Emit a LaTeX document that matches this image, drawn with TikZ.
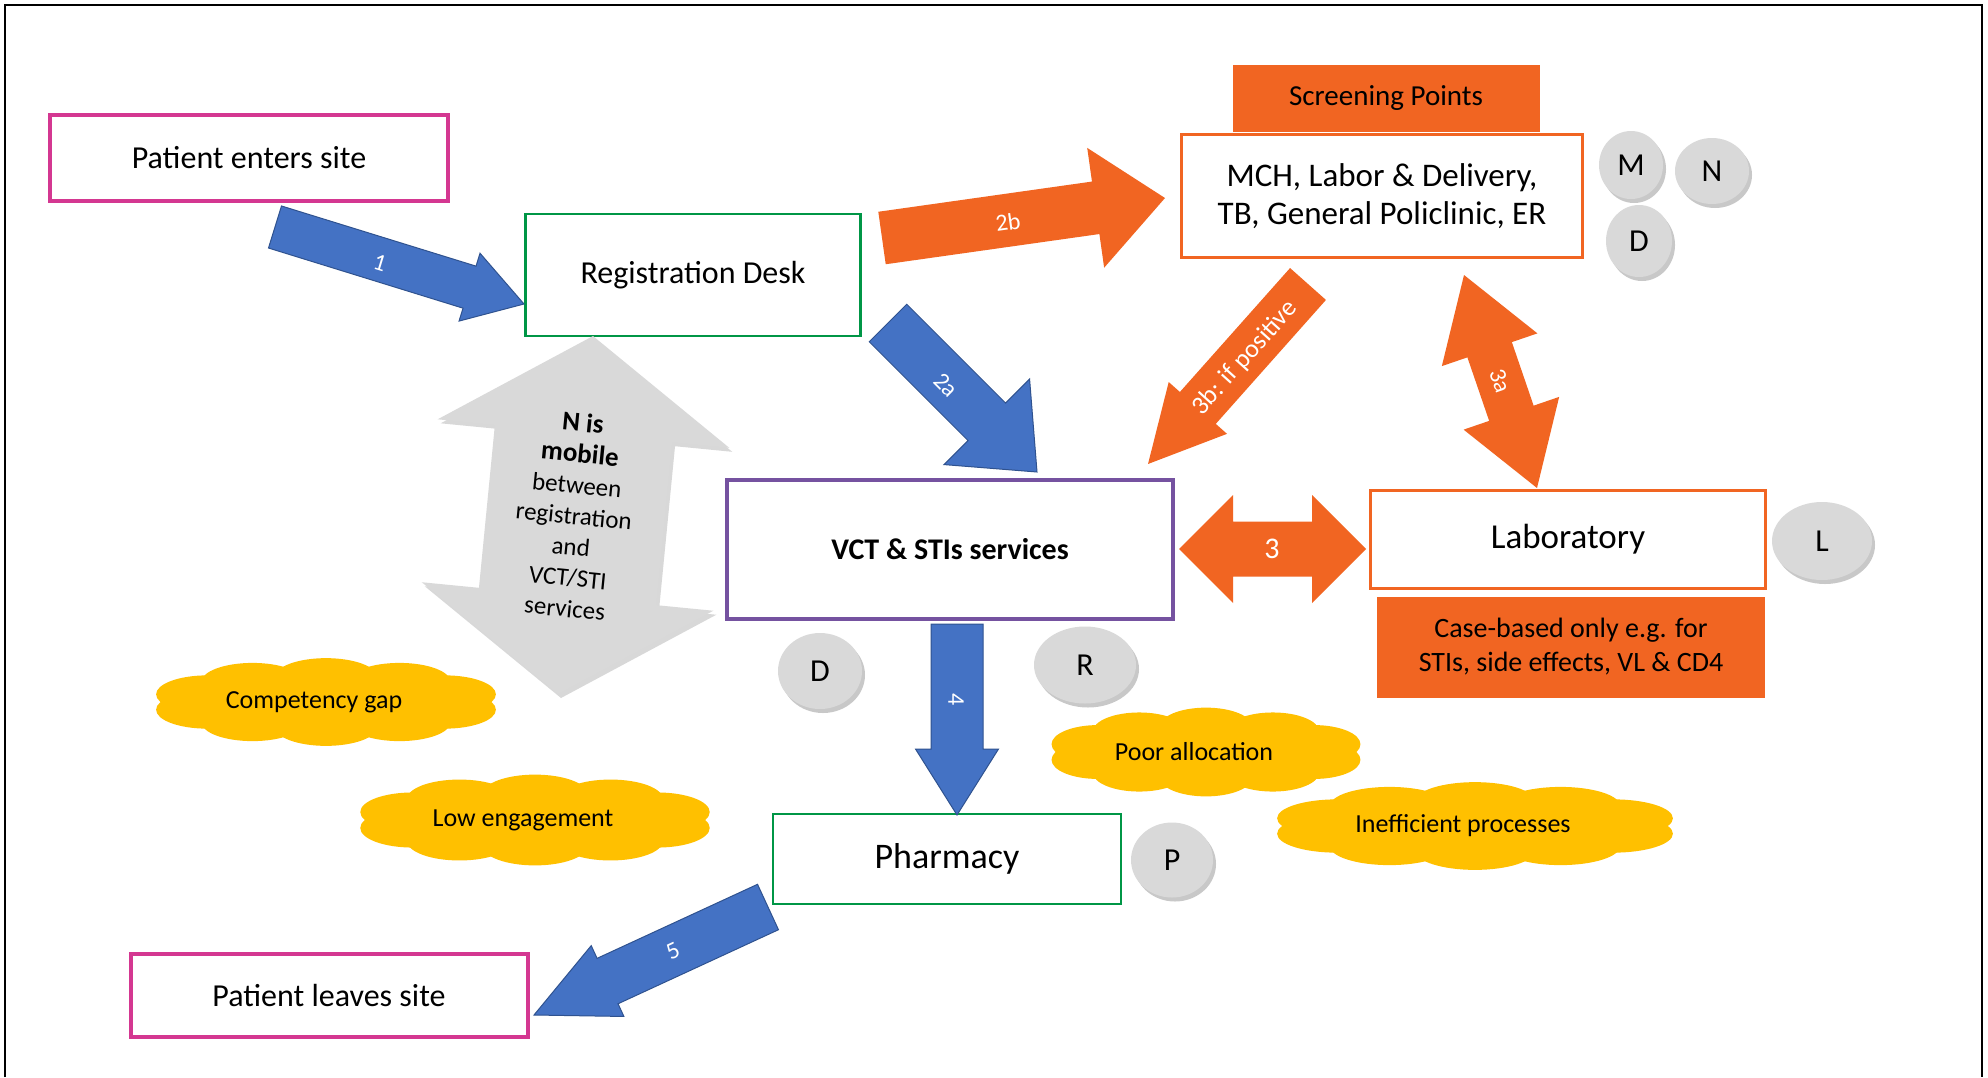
\documentclass[tikz,border=0pt]{standalone}
\usepackage{fontspec}
\setmainfont{Carlito}
\usetikzlibrary{calc,shapes.geometric,shadows}

\definecolor{cmag}{RGB}{212,55,145}
\definecolor{cgreen}{RGB}{0,150,70}
\definecolor{cpurple}{RGB}{117,82,160}
\definecolor{corange}{RGB}{241,101,34}
\definecolor{cblue}{RGB}{68,114,196}
\definecolor{cblueedge}{RGB}{47,82,143}
\definecolor{cyellow}{RGB}{255,192,0}
\definecolor{cgray}{RGB}{217,217,217}

\newcommand{\setfs}[2]{\fontsize{#1}{#2}\selectfont}

% single block arrow: style, tail, tip, shaft width, head width, head length
\newcommand{\blockarrow}[6]{%
  \path let \p1=(#2), \p2=(#3) in \pgfextra{%
    \pgfmathsetmacro\baang{atan2(\y2-\y1,\x2-\x1)}%
    \pgfmathsetmacro\balen{veclen(\x2-\x1,\y2-\y1)}%
    \xdef\baA{\baang}\xdef\baL{\balen}\xdef\baX{\x1}\xdef\baY{\y1}};
  \begin{scope}[shift={(\baX,\baY)}, rotate=\baA]
    \path[#1] (0pt,{#4pt/2}) -- ({\baL pt-#6pt},{#4pt/2}) -- ({\baL pt-#6pt},{#5pt/2})
      -- (\baL pt,0pt) -- ({\baL pt-#6pt},{-#5pt/2}) -- ({\baL pt-#6pt},{-#4pt/2})
      -- (0pt,{-#4pt/2}) -- cycle;
  \end{scope}}

% double block arrow: style, end A, end B, shaft width, head width, head length
\newcommand{\doublearrow}[6]{%
  \path let \p1=(#2), \p2=(#3) in \pgfextra{%
    \pgfmathsetmacro\baang{atan2(\y2-\y1,\x2-\x1)}%
    \pgfmathsetmacro\balen{veclen(\x2-\x1,\y2-\y1)}%
    \xdef\baA{\baang}\xdef\baL{\balen}\xdef\baX{\x1}\xdef\baY{\y1}};
  \begin{scope}[shift={(\baX,\baY)}, rotate=\baA]
    \path[#1] (0pt,0pt) -- (#6pt,{#5pt/2}) -- (#6pt,{#4pt/2}) -- ({\baL pt-#6pt},{#4pt/2})
      -- ({\baL pt-#6pt},{#5pt/2}) -- (\baL pt,0pt) -- ({\baL pt-#6pt},{-#5pt/2})
      -- ({\baL pt-#6pt},{-#4pt/2}) -- (#6pt,{-#4pt/2}) -- (#6pt,{-#5pt/2}) -- cycle;
  \end{scope}}

% yellow cloud built from overlapping puffs: name, x, y, width, height, text
\newcommand{\puffcloud}[6]{%
  \fill[cyellow] (#2,#3) ellipse [x radius={0.40*#4}, y radius={0.36*#5}];
  \foreach \pa in {18,54,90,126,162,198,234,270,306,342}
    \fill[cyellow] ({#2+0.355*#4*cos(\pa)},{#3+0.29*#5*sin(\pa)})
      ellipse [x radius={0.145*#4}, y radius={0.22*#5}];
  \node[cloudtext] (#1) at ({#2-12},#3) {#6};}

\begin{document}
\begin{tikzpicture}[x=1pt,y=-1pt,
  box/.style={draw, fill=white, inner sep=0pt, align=center, font=\setfs{32}{38}},
  magbox/.style={box, draw=cmag, line width=4pt},
  greenbox/.style={box, draw=cgreen, line width=2.5pt},
  purbox/.style={box, draw=cpurple, line width=4pt},
  orbox/.style={box, draw=corange, line width=3pt},
  orfill/.style={fill=corange, inner sep=0pt, align=center},
  badge/.style={ellipse, fill=cgray, inner sep=0pt, font=\setfs{32}{34},
    drop shadow={shadow xshift=3pt, shadow yshift=-4pt, opacity=0.3, fill=black!70}},
  cloudtext/.style={inner sep=0pt, font=\setfs{26}{30}},
  arrowlabel/.style={text=white, inner sep=0pt, font=\setfs{24}{26}},
  bluearrow/.style={fill=cblue, draw=cblueedge, line width=1pt},
  orangearrow/.style={fill=corange},
  grayarrow/.style={fill=cgray, drop shadow={shadow xshift=3pt, shadow yshift=-4pt, opacity=0.25, fill=black!60}}]

\useasboundingbox (0,0) rectangle (1988,1077);
\fill[white] (0,0) rectangle (1988,1077);

% frame
\draw[line width=2pt] (5,1077) -- (5,5) -- (1982,5) -- (1982,1077);

% process boxes
\node[magbox, minimum width=398, minimum height=86] (enter) at (249,158) {Patient enters site};
\node[greenbox, minimum width=335, minimum height=122] (reg) at (693,275) {Registration Desk};
\node[orfill, minimum width=307, minimum height=67, font=\setfs{29}{34}] (screen) at (1386,98) {Screening Points};
\node[orbox, minimum width=401, minimum height=123, font=\setfs{33}{38}] (mch) at (1382,196) {MCH, Labor \& Delivery,\\TB, General Policlinic, ER};
\node[purbox, minimum width=446, minimum height=139, font=\setfs{30}{34}\bfseries] (vct) at (950,549) {VCT \& STIs services};
\node[orbox, minimum width=395, minimum height=98, font=\setfs{35}{40}] (lab) at (1568,539) {Laboratory};
\node[orfill, minimum width=388, minimum height=101, font=\setfs{28}{34}] (case) at (1571,647) {Case-based only e.g. for\\STIs, side effects, VL \& CD4};
\node[greenbox, minimum width=348, minimum height=90, font=\setfs{36}{40}] (pharm) at (947,859) {Pharmacy};
\node[magbox, minimum width=397, minimum height=83] (leave) at (329,995) {Patient leaves site};

% staff badges
\node[badge, minimum width=64, minimum height=68] (bm) at (1631,165) {M};
\node[badge, minimum width=74, minimum height=66] (bn) at (1712,171) {N};
\node[badge, minimum width=66, minimum height=72] (bd1) at (1639,241) {D};
\node[badge, minimum width=100, minimum height=78] (bl) at (1822,541) {L};
\node[badge, minimum width=84, minimum height=76] (bd2) at (820,671) {D};
\node[badge, minimum width=102, minimum height=77] (br) at (1085,665) {R};
\node[badge, minimum width=82, minimum height=75] (bp) at (1172,860) {P};

% gaps
\puffcloud{gap1}{326}{702}{352}{86}{Competency gap}
\puffcloud{gap2}{535}{820}{362}{89}{Low engagement}
\puffcloud{gap3}{1206}{752}{320}{87}{Poor allocation}
\puffcloud{gap4}{1475}{826}{410}{86}{Inefficient processes}

% arrow end points
\coordinate (a1t) at (275,227);  \coordinate (a1h) at (524,304);
\coordinate (a2bt) at (882,238); \coordinate (a2bh) at (1165,198);
\coordinate (a2at) at (888,323); \coordinate (a2ah) at (1037,472);
\coordinate (a3bt) at (1308,284); \coordinate (a3bh) at (1148,464);
\coordinate (a3aa) at (1464,275); \coordinate (a3ab) at (1537,488);
\coordinate (a3l) at (1179,549); \coordinate (a3r) at (1366,549);
\coordinate (a4t) at (957,624);  \coordinate (a4h) at (957,815);
\coordinate (a5t) at (768,907);  \coordinate (a5h) at (534,1015);
\coordinate (ngb) at (558,694);  \coordinate (ngt) at (593,336);

% flow arrows
\doublearrow{grayarrow}{ngb}{ngt}{178}{293}{98}
\blockarrow{bluearrow}{a1t}{a1h}{44}{71}{57}
\blockarrow{orangearrow}{a2bt}{a2bh}{53}{121}{70}
\blockarrow{bluearrow}{a2at}{a2ah}{53}{121}{71}
\blockarrow{orangearrow}{a3bt}{a3bh}{48}{78}{75}
\doublearrow{orangearrow}{a3aa}{a3ab}{47}{101}{79}
\doublearrow{orangearrow}{a3l}{a3r}{55}{108}{54}
\blockarrow{bluearrow}{a4t}{a4h}{52}{83}{66}
\blockarrow{bluearrow}{a5t}{a5h}{50}{78}{81}

% arrow labels
\node[arrowlabel, rotate=-17] (l1) at (380,263) {1};
\node[arrowlabel, rotate=8] (l2b) at (1008,222) {2b};
\node[arrowlabel, rotate=-45] (l2a) at (946,385) {2a};
\node[arrowlabel, rotate=48, font=\setfs{26}{28}] (l3b) at (1245,358) {3b: if positive};
\node[arrowlabel, rotate=-71] (l3a) at (1500,381) {3a};
\node[arrowlabel, font=\setfs{30}{32}] (l3) at (1272,549) {3};
\node[arrowlabel, rotate=-90] (l4) at (956,700) {4};
\node[arrowlabel, rotate=25] (l5) at (673,951) {5};

\node[rotate=-5.6, align=center, inner sep=0pt, font=\setfs{25}{31}] (nmob) at (574,515)
  {{\setfs{27}{31}\bfseries N is}\\{\setfs{27}{31}\bfseries mobile}\\between\\registration\\and\\VCT/STI\\services};

\end{tikzpicture}
\end{document}
